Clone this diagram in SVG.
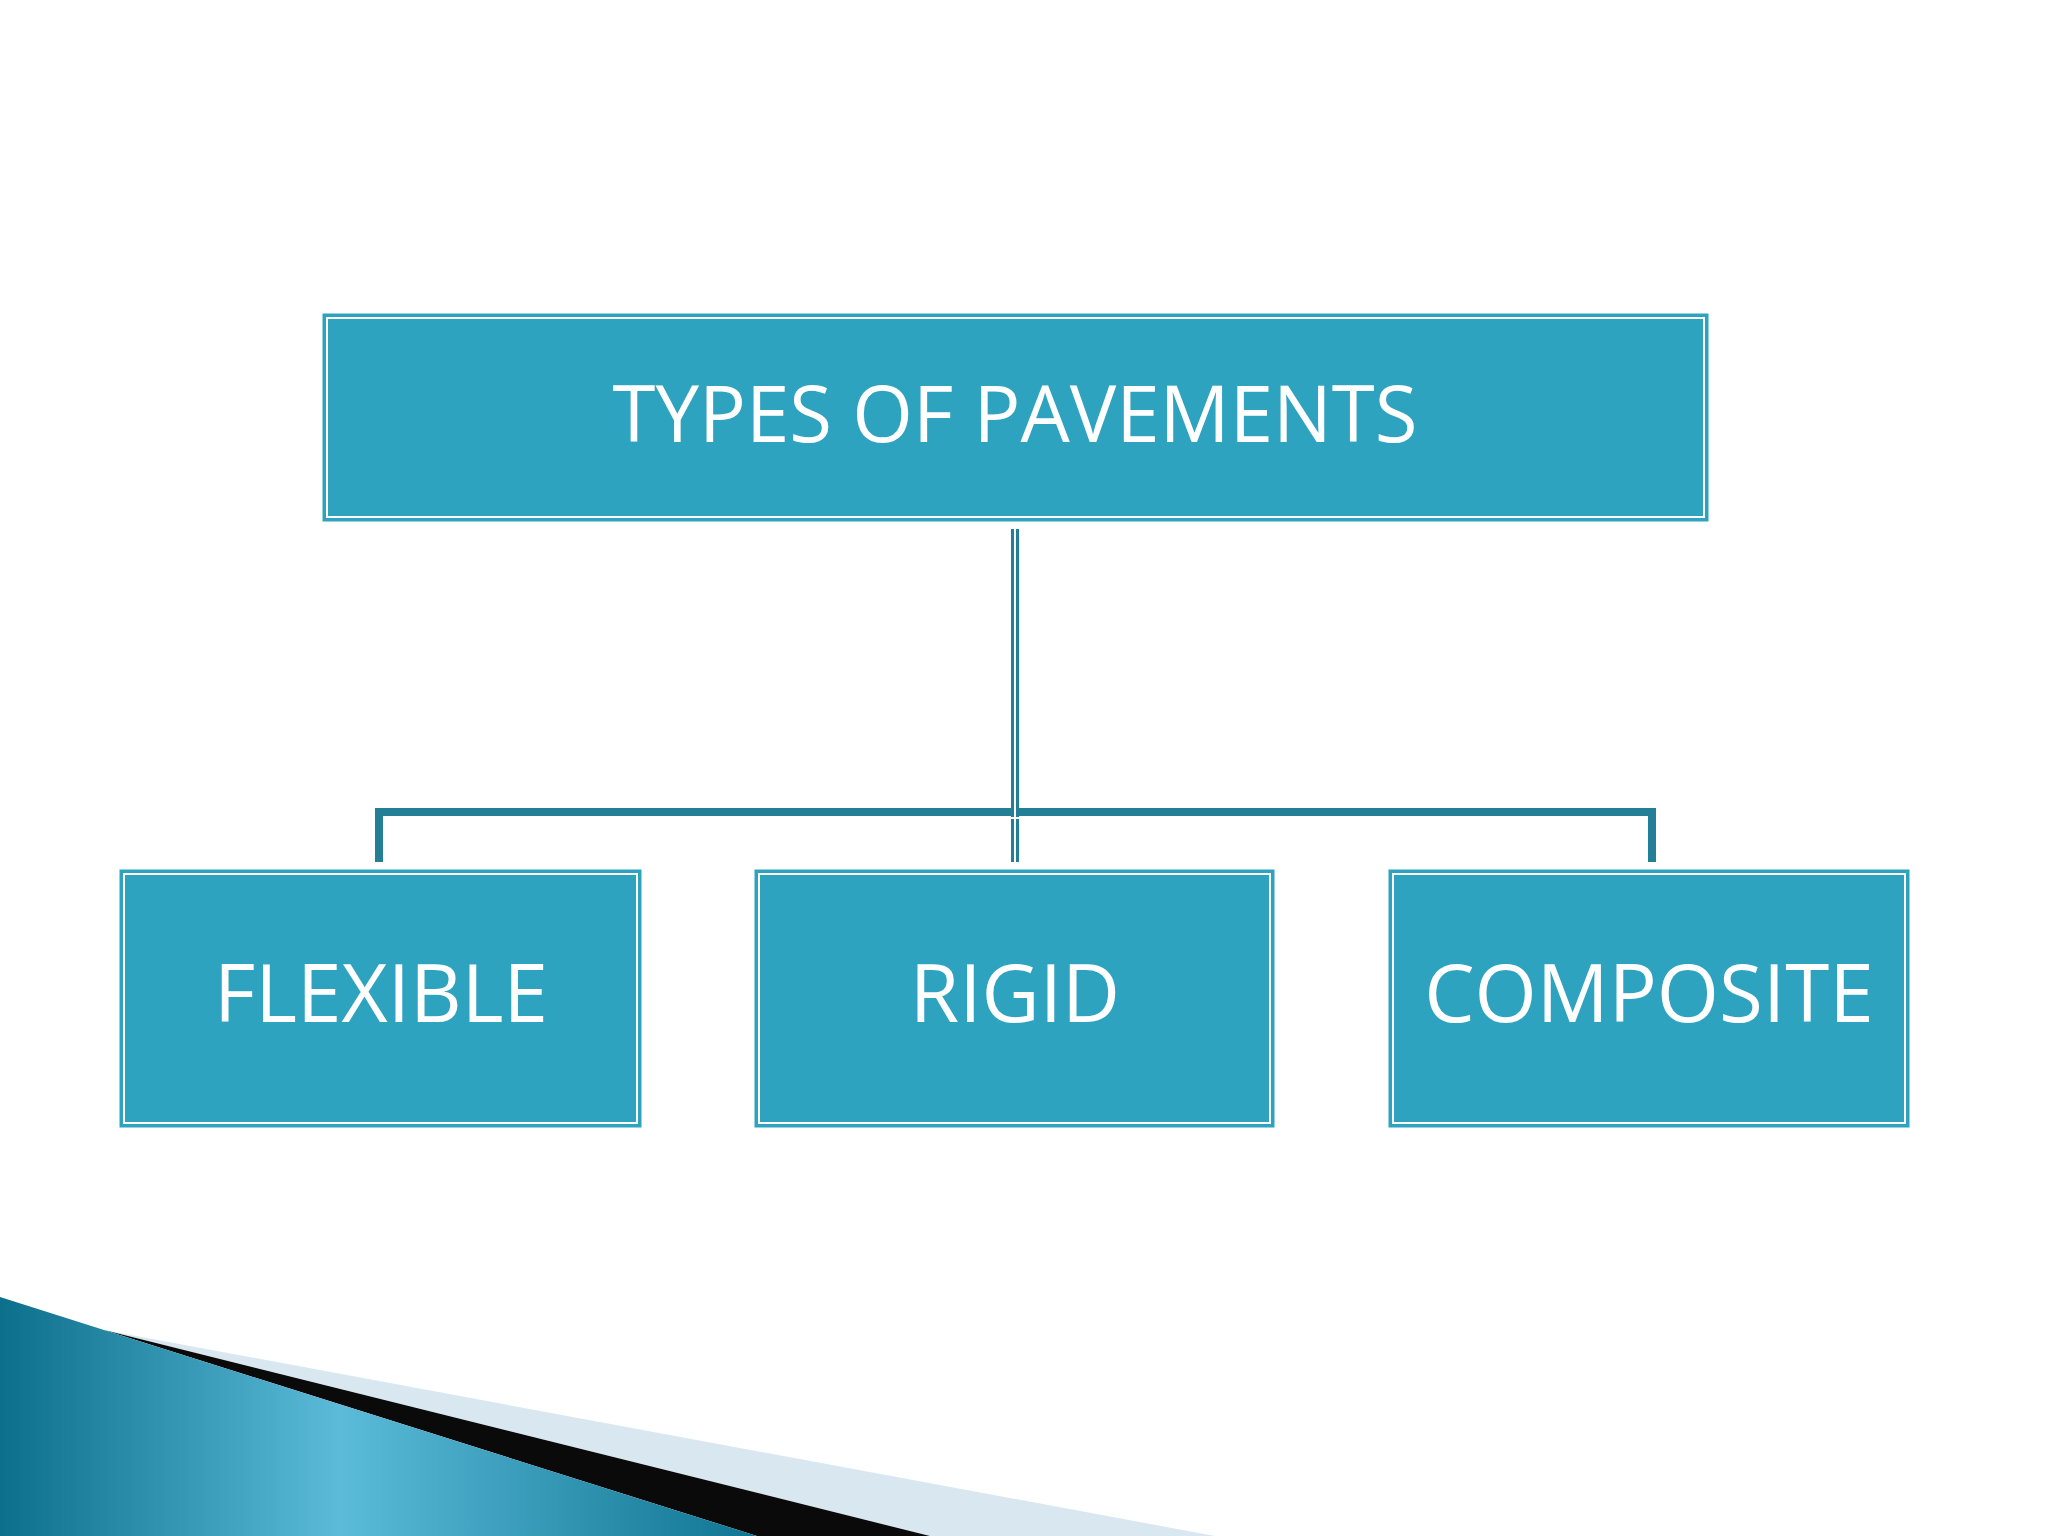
<svg xmlns="http://www.w3.org/2000/svg" width="2048" height="1536" viewBox="0 0 2048 1536">
<defs>
<style>
.box{fill:#2ea3c0;stroke:#2ea3c0;stroke-width:3}
.inner{fill:none;stroke:#ffffff;stroke-width:2}
.lbl{font-family:"Open Sans","DejaVu Sans",sans-serif;fill:#ffffff;text-anchor:middle}
.c{fill:none;stroke:#237f96;stroke-width:8}
.ci{fill:none;stroke:#ffffff;stroke-width:2}
</style>
<linearGradient id="bg" x1="0" y1="0" x2="1" y2="0">
<stop offset="0" stop-color="#0c6f8c"/><stop offset="0.45" stop-color="#5bbbd9"/><stop offset="1" stop-color="#0f7592"/>
</linearGradient>
</defs>
<rect width="2048" height="1536" fill="#ffffff"/>
<g id="decor">
<polygon points="104,1330 1215,1536 930,1536" fill="#d9e8f0"/>
<polygon points="104,1330 930,1536 757,1536" fill="#0a0a0a"/>
<polygon points="0,1297 104,1330 757,1536 0,1536" fill="url(#bg)"/>
</g>
<g id="connectors">
<path class="c" d="M1015,529 V862 M379,862 V812 H1652 V862"/>
<path class="ci" d="M1015,529 V862 M385,862 V818 H1646 V862"/>
</g>
<g id="root">
<rect class="box" x="324" y="315" width="1383" height="205"/>
<rect class="inner" x="327" y="318" width="1377" height="199"/>
<text class="lbl" x="1015" y="442" font-size="78">TYPES OF PAVEMENTS</text>
</g>
<g id="flexible">
<rect class="box" x="121" y="871" width="519" height="255"/>
<rect class="inner" x="124" y="874" width="513" height="249"/>
<text class="lbl" x="381" y="1022" font-size="80">FLEXIBLE</text>
</g>
<g id="rigid">
<rect class="box" x="756" y="871" width="517" height="255"/>
<rect class="inner" x="759" y="874" width="511" height="249"/>
<text class="lbl" x="1015" y="1022" font-size="80">RIGID</text>
</g>
<g id="composite">
<rect class="box" x="1390" y="871" width="518" height="255"/>
<rect class="inner" x="1393" y="874" width="512" height="249"/>
<text class="lbl" x="1649" y="1022" font-size="80">COMPOSITE</text>
</g>
</svg>
